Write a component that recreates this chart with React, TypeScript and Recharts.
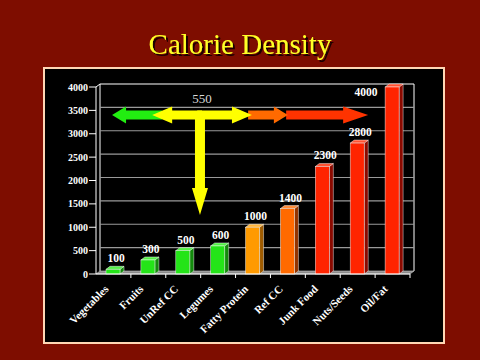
import React from 'react';
import { BarChart, Bar, XAxis, YAxis, CartesianGrid, LabelList } from 'recharts';

// ---- data ----
const categories = ['Vegetables', 'Fruits', 'UnRef CC', 'Legumes', 'Fatty Protein', 'Ref CC', 'Junk Food', 'Nuts/Seeds', 'Oil/Fat'];
const calories = [100, 300, 500, 600, 1000, 1400, 2300, 2800, 4000];
const yTicks = [0, 500, 1000, 1500, 2000, 2500, 3000, 3500, 4000];
const titleText = 'Calorie Density';
const arrowLabel = '550';

const data = categories.map((name, i) => ({ name, value: calories[i] }));

// ---- layout / style ----
const W = 480;
const H = 360;
const PLOT = { left: 96, right: 410, top: 87, bottom: 274 };
const DX = 4;
const DY = -3;
const Y_MAX = 4000;
const BG = '#7e0d00';
const FONT = "'Liberation Serif', 'Times New Roman', serif";

const GREEN = { front: '#24e418', side: '#138a0c', top: '#52f046' };
const AMBER = { front: '#ff9a00', side: '#a05c00', top: '#ffb43a' };
const ORANGE = { front: '#ff6a00', side: '#923400', top: '#ff8c3a' };
const RED = { front: '#ff2400', side: '#8a0a00', top: '#ff5232' };
const BAR_STYLE = [GREEN, GREEN, GREEN, GREEN, AMBER, ORANGE, RED, RED, RED];

const band = (PLOT.right - PLOT.left) / categories.length;
const xAt = (i: number) => PLOT.left + (i + 0.5) * band;
const yAt = (v: number) => PLOT.bottom - (v / Y_MAX) * (PLOT.bottom - PLOT.top);

const Bar3D = (props: any) => {
  const { x, y, width, height } = props;
  let idx = props.index;
  if (idx == null && props.payload) idx = categories.indexOf(props.payload.name);
  const c = BAR_STYLE[idx] || RED;
  const edge = { stroke: '#ffffff', strokeWidth: 0.6, strokeOpacity: 0.75 };
  return (
    <g>
      <polygon
        points={`${x + width},${y} ${x + width + DX},${y + DY} ${x + width + DX},${y + height + DY} ${x + width},${y + height}`}
        fill={c.side}
        {...edge}
      />
      <polygon
        points={`${x},${y} ${x + DX},${y + DY} ${x + width + DX},${y + DY} ${x + width},${y}`}
        fill={c.top}
        {...edge}
      />
      <rect x={x} y={y} width={width} height={height} fill={c.front} {...edge} />
    </g>
  );
};

const BarValueLabel = (props: any) => {
  const { x, y, width, value, index } = props;
  const last = index === categories.length - 1;
  const cx = last ? x - 19 : x + width / 2 + 3;
  const by = last ? y + 9 : y - 7;
  return (
    <text x={cx} y={by} textAnchor="middle" fill="#ffffff" fontFamily={FONT} fontWeight="bold" fontSize={11.5}>
      {value}
    </text>
  );
};

const XTick = (props: any) => {
  const { x, payload } = props;
  const ay = PLOT.bottom;
  const lx = x - 7;
  const ly = ay + 13;
  return (
    <g>
      <line x1={x + band / 2} y1={ay} x2={x + band / 2} y2={ay + 4} stroke="#ffffff" strokeWidth={1} />
      <text
        x={lx}
        y={ly}
        dy="0.35em"
        textAnchor="end"
        transform={`rotate(-45, ${lx}, ${ly})`}
        fill="#ffffff"
        fontFamily={FONT}
        fontWeight="bold"
        fontSize={11}
      >
        {payload.value}
      </text>
    </g>
  );
};

const YTick = (props: any) => {
  const { x, y, payload } = props;
  return (
    <text x={x} y={y} dy="0.35em" textAnchor="end" fill="#ffffff" fontFamily={FONT} fontWeight="bold" fontSize={10}>
      {payload.value}
    </text>
  );
};

const GridLine = (props: any) => {
  const { x1, x2, y1, key } = props;
  if (Math.abs(y1 - PLOT.bottom) < 1) return <g key={key} />;
  const isTop = Math.abs(y1 - PLOT.top) < 1;
  return (
    <line
      key={key}
      x1={x1 + DX}
      x2={x2 + DX}
      y1={y1 + DY}
      y2={y1 + DY}
      stroke={isTop ? '#ffffff' : '#9a9a9a'}
      strokeWidth={1.2}
    />
  );
};

// horizontal arrow polygon (tail -> tip), positions in category-index units
const hArrow = (tailI: number, tipI: number, v: number, shaft: number, headLen: number, headHalf: number) => {
  const xt = xAt(tailI);
  const xp = xAt(tipI);
  const y = yAt(v);
  const s = xp > xt ? 1 : -1;
  const xb = xp - s * headLen;
  return `${xt},${y - shaft} ${xb},${y - shaft} ${xb},${y - headHalf} ${xp},${y} ${xb},${y + headHalf} ${xb},${y + shaft} ${xt},${y + shaft}`;
};

const Background = () => (
  <svg width={W} height={H} style={{ position: 'absolute', left: 0, top: 0 }}>
    <defs>
      <filter id="tshadow" x="-10%" y="-30%" width="120%" height="160%">
        <feDropShadow dx="2" dy="2" stdDeviation="0.6" floodColor="#1e0400" floodOpacity="1" />
      </filter>
    </defs>
    <rect x={0} y={0} width={W} height={H} fill={BG} />
    <text x={W / 2} y={54} textAnchor="middle" fontFamily={FONT} fontSize={29} fill="#ffff26" filter="url(#tshadow)">
      {titleText}
    </text>
    <rect x={44} y={68} width={400} height={275} fill="#000000" stroke="#ffd6b4" strokeWidth={2} />
    {/* back wall sides */}
    <line x1={PLOT.left + DX} y1={PLOT.top + DY} x2={PLOT.left + DX} y2={PLOT.bottom + DY} stroke="#ffffff" strokeWidth={1} />
    <line x1={PLOT.right + DX} y1={PLOT.top + DY} x2={PLOT.right + DX} y2={PLOT.bottom + DY} stroke="#ffffff" strokeWidth={1} />
    <line x1={PLOT.left} y1={PLOT.top} x2={PLOT.left + DX} y2={PLOT.top + DY} stroke="#ffffff" strokeWidth={1} />
    {/* floor */}
    <polygon
      points={`${PLOT.left},${PLOT.bottom} ${PLOT.right},${PLOT.bottom} ${PLOT.right + DX},${PLOT.bottom + DY} ${PLOT.left + DX},${PLOT.bottom + DY}`}
      fill="#8c8c8c"
      stroke="#cfcfcf"
      strokeWidth={0.6}
    />
  </svg>
);

const Arrows = () => {
  const v = 3400;
  const vx = xAt(2.48);
  const vy0 = yAt(v);
  const vy1 = yAt(1262);
  const vb = vy1 - 27;
  return (
    <svg width={W} height={H} style={{ position: 'absolute', left: 0, top: 0, pointerEvents: 'none' }}>
      <polygon points={hArrow(4.95, 7.3, v, 4.5, 25, 8.5)} fill="#ff3300" />
      <polygon points={hArrow(3.86, 5.0, v, 4.5, 14, 8.5)} fill="#ff6a00" />
      <polygon points={hArrow(1.4, -0.04, v, 4.5, 14, 8.5)} fill="#22ee11" />
      <polygon points={hArrow(2.54, 1.11, v, 4.5, 20, 8.5)} fill="#ffff00" />
      <polygon points={hArrow(2.4, 3.97, v, 4.5, 20, 8.5)} fill="#ffff00" />
      <polygon
        points={`${vx - 5},${vy0} ${vx + 5},${vy0} ${vx + 5},${vb} ${vx + 8},${vb} ${vx},${vy1} ${vx - 8},${vb} ${vx - 5},${vb}`}
        fill="#ffff00"
      />
      <text x={vx + 2} y={103} textAnchor="middle" fontFamily={FONT} fontSize={13} fill="#d8d8d8">
        {arrowLabel}
      </text>
    </svg>
  );
};

export default function App() {
  return (
    <div style={{ position: 'absolute', left: 0, top: 0, width: W, height: H, overflow: 'hidden', background: BG }}>
      <Background />
      <div style={{ position: 'absolute', left: 0, top: 0 }}>
        <BarChart
          width={W}
          height={H}
          data={data}
          margin={{ top: PLOT.top, right: W - PLOT.right, bottom: H - PLOT.bottom - 60, left: PLOT.left - 50 }}
        >
          <CartesianGrid vertical={false} horizontal={GridLine as any} />
          <XAxis
            dataKey="name"
            interval={0}
            height={60}
            axisLine={{ stroke: '#ffffff', strokeWidth: 1 }}
            tickLine={false}
            tick={<XTick />}
          />
          <YAxis
            domain={[0, Y_MAX]}
            ticks={yTicks}
            interval={0}
            width={50}
            tickSize={7}
            tickMargin={1}
            axisLine={{ stroke: '#ffffff', strokeWidth: 1 }}
            tickLine={{ stroke: '#ffffff', strokeWidth: 1 }}
            tick={<YTick />}
          />
          <Bar dataKey="value" barSize={14} shape={<Bar3D />} isAnimationActive={false}>
            <LabelList dataKey="value" content={<BarValueLabel />} />
          </Bar>
        </BarChart>
      </div>
      <Arrows />
    </div>
  );
}
